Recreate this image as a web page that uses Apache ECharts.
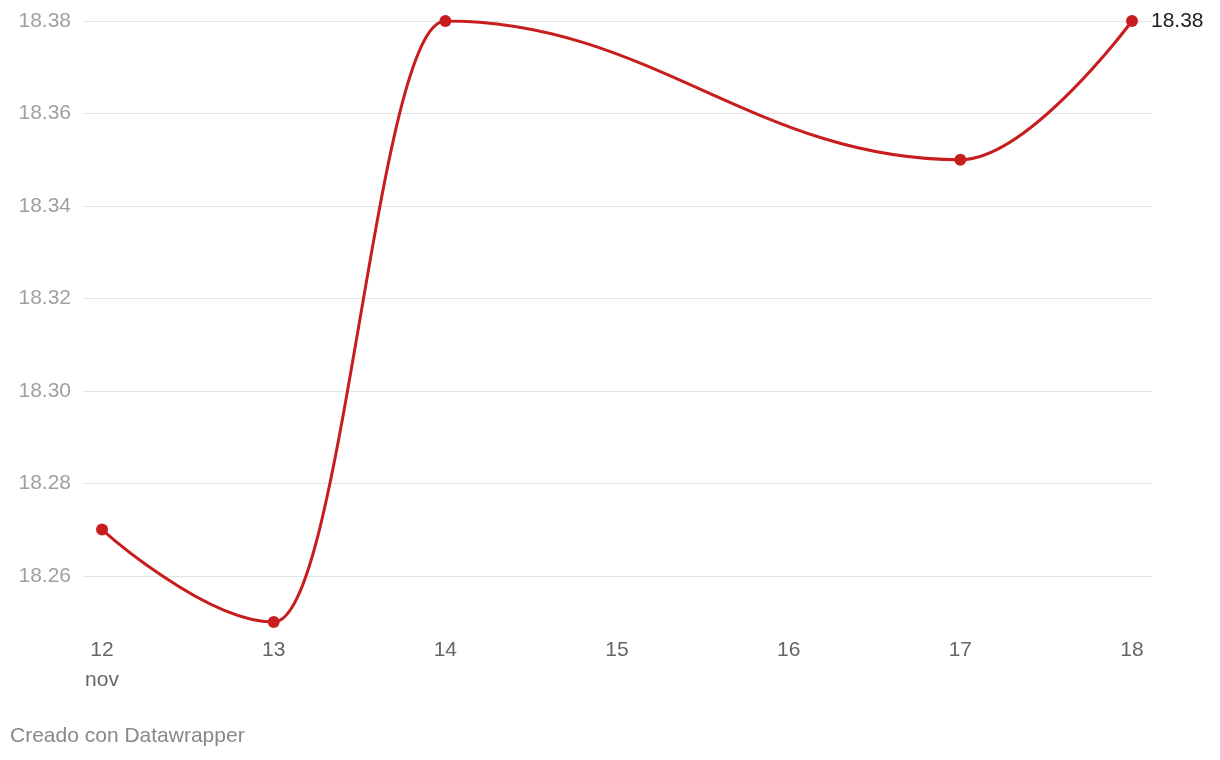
<!DOCTYPE html>
<html>
<head>
<meta charset="utf-8">
<script src="https://cdn.jsdelivr.net/npm/echarts@6/dist/echarts.min.js"></script>
<style>
html,body{margin:0;padding:0;background:#fff;}
#c{width:1220px;height:760px;}
</style>
</head>
<body>
<div id="c"></div>
<script>
const days = [12, 13, 14, 17, 18];
const values = [18.27, 18.25, 18.38, 18.35, 18.38];
const xTicks = [12, 13, 14, 15, 16, 17, 18];
const yTicks = [18.26, 18.28, 18.30, 18.32, 18.34, 18.36, 18.38];
const monthLabel = 'nov';
const footer = 'Creado con Datawrapper';

const font = '"Liberation Sans", Arial, sans-serif';
const chart = echarts.init(document.getElementById('c'));
chart.setOption({
  animation: false,
  grid: { left: 83, right: 68, top: 21, bottom: 138, containLabel: false },
  xAxis: {
    type: 'value',
    min: 11.889,
    max: 18.1165,
    axisLine: { show: false },
    axisTick: { show: false, customValues: xTicks },
    splitLine: { show: false },
    axisLabel: {
      customValues: xTicks,
      margin: 13,
      fontSize: 21,
      lineHeight: 30,
      color: '#666',
      fontFamily: font,
      formatter: v => (v === xTicks[0] ? v + '\n' + monthLabel : String(v))
    }
  },
  yAxis: {
    type: 'value',
    min: 18.25,
    max: 18.38,
    axisLine: { show: false },
    axisTick: { show: false, customValues: yTicks },
    splitLine: { show: true, lineStyle: { color: '#e3e3e3', width: 1 } },
    axisLabel: {
      customValues: yTicks,
      margin: 12,
      fontSize: 21,
      color: '#a0a0a0',
      fontFamily: font,
      formatter: v => v.toFixed(2)
    }
  },
  series: [{
    type: 'line',
    data: days.map((d, i) => [d, values[i]]),
    smooth: 0.4,
    smoothMonotone: 'x',
    symbol: 'circle',
    symbolSize: 12,
    lineStyle: { color: '#c71e1d', width: 3 },
    itemStyle: { color: '#c71e1d' },
    label: {
      show: true,
      position: 'right',
      distance: 13,
      fontSize: 21,
      color: '#1d1d1d',
      fontFamily: font,
      formatter: p => (p.dataIndex === days.length - 1 ? values[p.dataIndex].toFixed(2) : '')
    }
  }],
  graphic: [{
    type: 'text',
    x: 10,
    y: 736,
    style: { text: footer, fontSize: 21, fill: '#888', fontFamily: font, verticalAlign: 'middle' }
  }]
});
</script>
</body>
</html>
